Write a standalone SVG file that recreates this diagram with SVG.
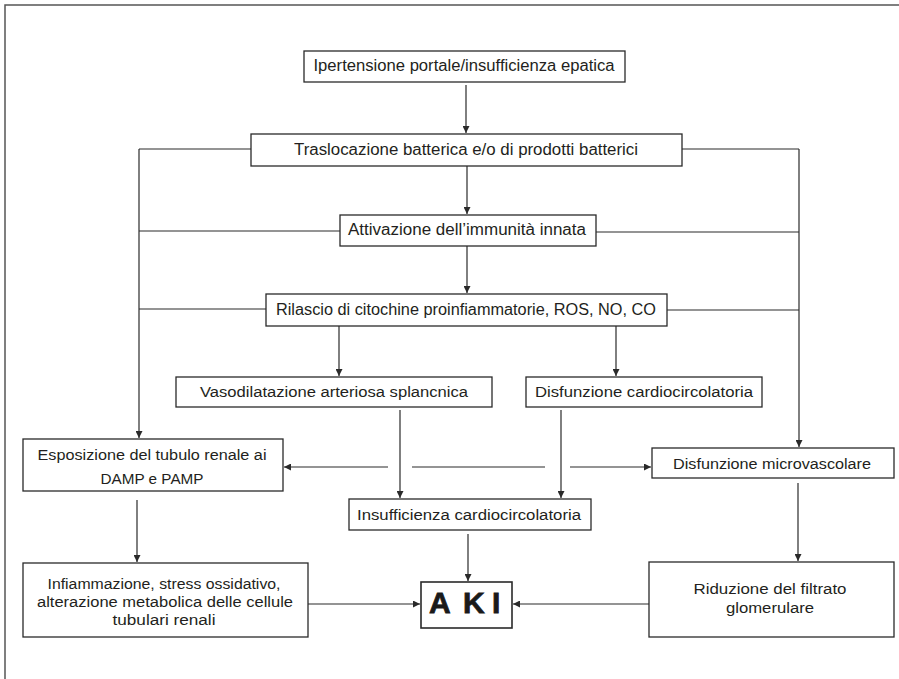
<svg xmlns="http://www.w3.org/2000/svg" width="899" height="679" viewBox="0 0 899 679">
<defs>
<marker id="ah" viewBox="0 0 10 10" refX="10" refY="5" markerWidth="7" markerHeight="7" markerUnits="userSpaceOnUse" orient="auto">
<path d="M0,0 L10,5 L0,10 Z" fill="#2a2a2a"/>
</marker>
<style>
.box{fill:#fff;stroke:#2a2a2a;stroke-width:1.3}
.t{font-family:"Liberation Sans",Arial,sans-serif;font-size:15.5px;fill:#231f20;text-anchor:middle}
.tb{font-size:16px}
.c{fill:none;stroke:#2a2a2a;stroke-width:1.2}
.a{marker-end:url(#ah)}
.frame{fill:none;stroke:#555;stroke-width:1.5}
.aki{font-family:"Liberation Sans",Arial,sans-serif;font-size:30px;font-weight:bold;fill:#1a1a1a;stroke:#1a1a1a;stroke-width:0.8}
</style>
</defs>
<rect width="899" height="679" fill="#fff"/>
<path class="frame" d="M5,679 V5 H899"/>

<g id="connectors">
<path class="c a" d="M466,85 V133"/>
<path class="c a" d="M467,166 V214"/>
<path class="c a" d="M467,246 V293"/>
<path class="c" d="M251,149 H139"/>
<path class="c" d="M340,231 H139"/>
<path class="c" d="M266,309 H139"/>
<path class="c a" d="M139,149 V438"/>
<path class="c" d="M682,149 H799"/>
<path class="c" d="M596,232 H799"/>
<path class="c" d="M667,310 H799"/>
<path class="c a" d="M799,149 V447"/>
<path class="c a" d="M339,326 V376"/>
<path class="c a" d="M616,326 V376"/>
<path class="c a" d="M400,410 V498"/>
<path class="c a" d="M561,410 V498"/>
<path class="c a" d="M388,467 H284"/>
<path class="c" d="M412,467 H545"/>
<path class="c a" d="M570,467 H651"/>
<path class="c a" d="M137,500 V562"/>
<path class="c a" d="M798,483 V561"/>
<path class="c a" d="M468,534 V581"/>
<path class="c a" d="M308,604 H420"/>
<path class="c a" d="M649,604 H513"/>
</g>

<g id="n1">
<rect class="box" x="304" y="51" width="321" height="31"/>
<text class="t tb" x="464" y="71" textLength="301" lengthAdjust="spacingAndGlyphs">Ipertensione portale/insufficienza epatica</text>
</g>
<g id="n2">
<rect class="box" x="251" y="134" width="431" height="32"/>
<text class="t tb" x="466" y="155" textLength="344" lengthAdjust="spacingAndGlyphs">Traslocazione batterica e/o di prodotti batterici</text>
</g>
<g id="n3">
<rect class="box" x="340" y="215" width="256" height="31"/>
<text class="t tb" x="467" y="235" textLength="238" lengthAdjust="spacingAndGlyphs">Attivazione dell’immunità innata</text>
</g>
<g id="n4">
<rect class="box" x="266" y="294" width="401" height="32"/>
<text class="t tb" x="466" y="315" textLength="380" lengthAdjust="spacingAndGlyphs">Rilascio di citochine proinfiammatorie, ROS, NO, CO</text>
</g>
<g id="n5">
<rect class="box" x="176" y="377" width="316" height="30"/>
<text class="t" x="334" y="397" textLength="268" lengthAdjust="spacingAndGlyphs">Vasodilatazione arteriosa splancnica</text>
</g>
<g id="n6">
<rect class="box" x="526" y="377" width="236" height="30"/>
<text class="t" x="644" y="397" textLength="218" lengthAdjust="spacingAndGlyphs">Disfunzione cardiocircolatoria</text>
</g>
<g id="n7">
<rect class="box" x="23" y="439" width="260" height="52"/>
<text class="t" x="152" y="460" textLength="229" lengthAdjust="spacingAndGlyphs">Esposizione del tubulo renale ai</text>
<text class="t" x="152" y="484" textLength="103" lengthAdjust="spacingAndGlyphs">DAMP e PAMP</text>
</g>
<g id="n8">
<rect class="box" x="652" y="448" width="242" height="30"/>
<text class="t" x="772" y="469" textLength="198" lengthAdjust="spacingAndGlyphs">Disfunzione microvascolare</text>
</g>
<g id="n9">
<rect class="box" x="349" y="499" width="242" height="31"/>
<text class="t" x="469" y="520" textLength="224" lengthAdjust="spacingAndGlyphs">Insufficienza cardiocircolatoria</text>
</g>
<g id="n10">
<rect class="box" x="23" y="563" width="285" height="74"/>
<text class="t" x="164" y="589" textLength="233" lengthAdjust="spacingAndGlyphs">Infiammazione, stress ossidativo,</text>
<text class="t" x="165" y="607" textLength="256" lengthAdjust="spacingAndGlyphs">alterazione metabolica delle cellule</text>
<text class="t" x="164" y="625" textLength="103" lengthAdjust="spacingAndGlyphs">tubulari renali</text>
</g>
<g id="n11">
<rect class="box" x="649" y="562" width="245" height="75"/>
<text class="t" x="770" y="594" textLength="153" lengthAdjust="spacingAndGlyphs">Riduzione del filtrato</text>
<text class="t" x="770" y="613" textLength="88" lengthAdjust="spacingAndGlyphs">glomerulare</text>
</g>
<g id="aki">
<rect class="box" x="421" y="582" width="91" height="46" style="stroke-width:1.6"/>
<text class="aki" x="429 463 492" y="613">AKI</text>
</g>
</svg>
